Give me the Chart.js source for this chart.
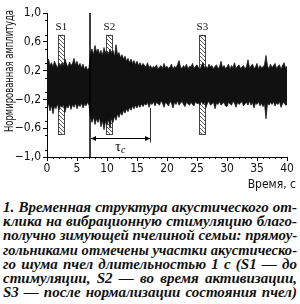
<!DOCTYPE html>
<html lang="ru">
<head>
<meta charset="UTF-8">
<title>Временная структура акустического отклика</title>
<style>
    body {
        margin: 0;
        padding: 0;
        background: #fff;
        width: 300px;
        overflow: hidden;
    }
    #wrap {
        position: relative;
        width: 300px;
        height: 198px;
    }
    .caption {
        position: absolute;
        top: 200px;
        left: 3px;
        width: 294px;
        font-family: 'Liberation Serif', 'Times New Roman', serif;
        font-weight: bold;
        font-style: italic;
        font-size: 15px;
        line-height: 14.2px;
        color: #111;
    }
    .caption div {
        text-align: justify;
        text-align-last: justify;
        white-space: nowrap;
        transform-origin: left top;
    }
</style>
</head>
<body>
<div id="wrap">
    <canvas id="chart" width="300" height="198"></canvas>
</div>
<div class="caption">
    <div>1. Временная структура акустического от-</div>
    <div>клика на вибрационную стимуляцию благо-</div>
    <div>получно зимующей пчелиной семьи: прямоу-</div>
    <div>гольниками отмечены участки акустическо-</div>
    <div>го шума пчел длительностью 1 с (S1 — до</div>
    <div>стимуляции, S2 — во время активизации,</div>
    <div>S3 — после нормализации состояния пчел)</div>
</div>

<script src="https://cdn.jsdelivr.net/npm/chart.js"></script>
<script>
    // sample step of the envelope, seconds
    const SAMPLE_STEP = 0.25;

    // upper envelope of the signal (max per 0.25 s), one row = 2 s
    const upperEnv = [
        0.33, 0.36, 0.27, 0.31, 0.25, 0.33, 0.28, 0.24,
        0.30, 0.26, 0.31, 0.27, 0.36, 0.29, 0.25, 0.32,
        0.27, 0.30, 0.37, 0.28, 0.33, 0.26, 0.30, 0.24,
        0.29, 0.22, 0.26, 0.21, 0.24, 0.45, 0.50, 0.42,
        0.55, 0.46, 0.50, 0.43, 0.48, 0.41, 0.52, 0.45,
        0.47, 0.42, 0.50, 0.44, 0.48, 0.40, 0.56, 0.42,
        0.45, 0.38, 0.42, 0.36, 0.40, 0.33, 0.37, 0.31,
        0.36, 0.30, 0.34, 0.28, 0.33, 0.27, 0.31, 0.26,
        0.30, 0.27, 0.25, 0.31, 0.24, 0.27, 0.23, 0.26,
        0.24, 0.28, 0.22, 0.25, 0.27, 0.23, 0.30, 0.24,
        0.26, 0.23, 0.25, 0.29, 0.22, 0.26, 0.24, 0.28,
        0.34, 0.25, 0.23, 0.27, 0.24, 0.29, 0.22, 0.26,
        0.25, 0.30, 0.23, 0.26, 0.28, 0.24, 0.22, 0.27,
        0.31, 0.24, 0.26, 0.23, 0.29, 0.25, 0.27, 0.22,
        0.26, 0.28, 0.23, 0.25, 0.33, 0.24, 0.27, 0.23,
        0.25, 0.29, 0.22, 0.27, 0.24, 0.31, 0.23, 0.26,
        0.28, 0.23, 0.25, 0.27, 0.22, 0.26, 0.35, 0.24,
        0.26, 0.29, 0.23, 0.25, 0.30, 0.22, 0.27, 0.24,
        0.25, 0.28, 0.41, 0.26, 0.23, 0.29, 0.24, 0.27,
        0.30, 0.23, 0.26, 0.28, 0.22, 0.27, 0.31, 0.24,
        0.26
    ];

    // lower envelope of the signal (min per 0.25 s)
    const lowerEnv = [
        -0.30, -0.26, -0.36, -0.28, -0.40, -0.29, -0.33, -0.26,
        -0.35, -0.28, -0.31, -0.27, -0.38, -0.29, -0.32, -0.26,
        -0.34, -0.27, -0.31, -0.25, -0.33, -0.27, -0.30, -0.25,
        -0.32, -0.26, -0.29, -0.24, -0.28, -0.45, -0.52, -0.44,
        -0.55, -0.47, -0.52, -0.45, -0.58, -0.49, -0.62, -0.50,
        -0.56, -0.47, -0.60, -0.46, -0.52, -0.43, -0.49, -0.40,
        -0.45, -0.38, -0.42, -0.35, -0.39, -0.33, -0.37, -0.31,
        -0.35, -0.29, -0.33, -0.28, -0.32, -0.27, -0.31, -0.26,
        -0.30, -0.26, -0.28, -0.24, -0.31, -0.25, -0.27, -0.23,
        -0.29, -0.24, -0.26, -0.28, -0.22, -0.25, -0.31, -0.24,
        -0.26, -0.29, -0.23, -0.25, -0.32, -0.24, -0.27, -0.22,
        -0.28, -0.25, -0.23, -0.27, -0.30, -0.24, -0.26, -0.28,
        -0.24, -0.27, -0.29, -0.23, -0.26, -0.25, -0.28, -0.22,
        -0.27, -0.24, -0.31, -0.25, -0.23, -0.28, -0.26, -0.24,
        -0.33, -0.25, -0.27, -0.23, -0.28, -0.26, -0.24, -0.29,
        -0.30, -0.24, -0.26, -0.28, -0.23, -0.25, -0.31, -0.24,
        -0.27, -0.25, -0.23, -0.29, -0.26, -0.24, -0.28, -0.22,
        -0.28, -0.24, -0.32, -0.25, -0.27, -0.23, -0.29, -0.25,
        -0.30, -0.26, -0.47, -0.25, -0.28, -0.24, -0.27, -0.23,
        -0.29, -0.25, -0.27, -0.23, -0.31, -0.26, -0.24, -0.28,
        -0.27
    ];

    // marked 1 s segments
    const segLabels = ['S1', 'S2', 'S3'];
    const segStart = [1.9, 9.9, 25.4];
    const segEnd = [2.9, 10.9, 26.4];
    const segTop = 0.70;
    const segBottom = -0.68;
    const segLabelY = 0.81;

    // stimulation moment and tau_c interval
    const stimTime = 7.2;
    const tauEnd = 17.1;
    const tauY = -0.74;
    const tauLineTop = -0.32;
    const tauLineBottom = -0.80;

    const xTicks = [0, 5, 10, 15, 20, 25, 30, 35, 40];
    const yTitle = 'Нормированная амплитуда';
    const xTitle = 'Время, с';

    const times = upperEnv.map((_, i) => i * SAMPLE_STEP);
    const narrow = "'Liberation Sans Narrow', 'DejaVu Sans Condensed', Arial, sans-serif";

    // squeeze caption lines that are wider than the column
    document.querySelectorAll('.caption div').forEach(line => {
        const w = line.scrollWidth;
        if (w > 294) {
            line.style.width = w + 'px';
            line.style.transform = 'scaleX(' + (294 / w) + ')';
        }
    });

    function makeHatch() {
        const c = document.createElement('canvas');
        c.width = 4;
        c.height = 4;
        const g = c.getContext('2d');
        g.fillStyle = '#fff';
        g.fillRect(0, 0, 4, 4);
        g.strokeStyle = '#555';
        g.lineWidth = 1;
        g.beginPath();
        g.moveTo(-1, -1); g.lineTo(5, 5);
        g.moveTo(-1, 3); g.lineTo(1, 5);
        g.moveTo(3, -1); g.lineTo(5, 1);
        g.stroke();
        return g.createPattern(c, 'repeat');
    }

    const marks = {
        id: 'marks',
        beforeDatasetsDraw(chart) {
            const { ctx, scales: { x, y } } = chart;
            const hatch = makeHatch();
            ctx.save();
            segStart.forEach((s, i) => {
                const x0 = x.getPixelForValue(s);
                const x1 = x.getPixelForValue(segEnd[i]);
                const y0 = y.getPixelForValue(segTop);
                const y1 = y.getPixelForValue(segBottom);
                ctx.fillStyle = hatch;
                ctx.fillRect(x0, y0, x1 - x0, y1 - y0);
                ctx.strokeStyle = '#444';
                ctx.lineWidth = 1;
                ctx.strokeRect(Math.round(x0) + 0.5, Math.round(y0) + 0.5, Math.round(x1 - x0), Math.round(y1 - y0));
            });
            ctx.restore();
        },
        afterDraw(chart) {
            const { ctx, scales: { x, y } } = chart;
            ctx.save();

            // segment labels
            ctx.fillStyle = '#111';
            ctx.font = "11px 'Liberation Serif', serif";
            ctx.textAlign = 'center';
            ctx.textBaseline = 'middle';
            segLabels.forEach((lab, i) => {
                ctx.fillText(lab, x.getPixelForValue((segStart[i] + segEnd[i]) / 2), y.getPixelForValue(segLabelY));
            });

            // stimulation line
            ctx.strokeStyle = '#000';
            ctx.lineWidth = 1.5;
            const sx = Math.round(x.getPixelForValue(stimTime));
            ctx.beginPath();
            ctx.moveTo(sx, y.getPixelForValue(1.0));
            ctx.lineTo(sx, y.getPixelForValue(-1.0));
            ctx.stroke();

            // tau_c end line and arrow
            const ex = Math.round(x.getPixelForValue(tauEnd)) + 0.5;
            ctx.lineWidth = 1;
            ctx.strokeStyle = '#333';
            ctx.beginPath();
            ctx.moveTo(ex, y.getPixelForValue(tauLineTop));
            ctx.lineTo(ex, y.getPixelForValue(tauLineBottom));
            ctx.stroke();

            const ay = Math.round(y.getPixelForValue(tauY)) + 0.5;
            const ax0 = sx + 1;
            const ax1 = ex - 0.5;
            ctx.strokeStyle = '#000';
            ctx.beginPath();
            ctx.moveTo(ax0, ay);
            ctx.lineTo(ax1, ay);
            ctx.stroke();
            ctx.fillStyle = '#000';
            ctx.beginPath();
            ctx.moveTo(ax0, ay); ctx.lineTo(ax0 + 5, ay - 2.5); ctx.lineTo(ax0 + 5, ay + 2.5);
            ctx.closePath(); ctx.fill();
            ctx.beginPath();
            ctx.moveTo(ax1, ay); ctx.lineTo(ax1 - 5, ay - 2.5); ctx.lineTo(ax1 - 5, ay + 2.5);
            ctx.closePath(); ctx.fill();

            // tau_c label
            const tx = x.getPixelForValue((stimTime + tauEnd) / 2);
            const ty = y.getPixelForValue(-0.87);
            ctx.font = "14px 'Liberation Serif', serif";
            ctx.textAlign = 'right';
            ctx.fillText('τ', tx + 1, ty);
            ctx.font = "italic 10px 'Liberation Serif', serif";
            ctx.textAlign = 'left';
            ctx.fillText('с', tx + 1, ty + 3);

            // minor ticks
            ctx.strokeStyle = '#000';
            ctx.lineWidth = 1;
            const bottom = chart.chartArea.bottom;
            const left = chart.chartArea.left;
            ctx.beginPath();
            for (let t = 1; t < 40; t++) {
                if (t % 5 === 0) continue;
                const px = Math.round(x.getPixelForValue(t)) + 0.5;
                ctx.moveTo(px, bottom);
                ctx.lineTo(px, bottom + 2);
            }
            for (let k = -9; k <= 9; k += 2) {
                const py = Math.round(y.getPixelForValue(k / 10)) + 0.5;
                ctx.moveTo(left, py);
                ctx.lineTo(left - 2, py);
            }
            ctx.stroke();

            // axis titles
            ctx.fillStyle = '#111';
            ctx.font = '12px ' + narrow;
            ctx.textAlign = 'right';
            ctx.textBaseline = 'middle';
            ctx.fillText(xTitle, 296, 185);

            ctx.translate(10, 71);
            ctx.rotate(-Math.PI / 2);
            const tw = ctx.measureText(yTitle).width;
            if (tw > 122) ctx.scale(122 / tw, 1);
            ctx.textAlign = 'center';
            ctx.fillText(yTitle, 0, 0);
            ctx.restore();
        }
    };

    function fmt(v) {
        if (Math.abs(v) < 1e-9) return '0';
        return v.toFixed(1).replace('.', ',').replace('-', '\u2212');
    }

    new Chart(document.getElementById('chart'), {
        type: 'line',
        data: {
            datasets: [
                {
                    data: upperEnv.map((v, i) => ({ x: times[i], y: v })),
                    borderColor: '#1a1a1a',
                    borderWidth: 0.8,
                    backgroundColor: '#111',
                    fill: '+1',
                    pointRadius: 0,
                    tension: 0
                },
                {
                    data: lowerEnv.map((v, i) => ({ x: times[i], y: v })),
                    borderColor: '#1a1a1a',
                    borderWidth: 0.8,
                    backgroundColor: '#111',
                    fill: false,
                    pointRadius: 0,
                    tension: 0
                }
            ]
        },
        options: {
            responsive: false,
            animation: false,
            devicePixelRatio: 1,
            layout: { padding: { top: 13, right: 13, left: 0, bottom: 0 } },
            plugins: {
                legend: { display: false },
                tooltip: { enabled: false }
            },
            scales: {
                x: {
                    type: 'linear',
                    min: 0,
                    max: 40,
                    afterFit(scale) { scale.height = 41; },
                    afterBuildTicks(scale) { scale.ticks = xTicks.map(v => ({ value: v })); },
                    grid: { drawOnChartArea: false, drawTicks: true, tickLength: 4, color: '#000' },
                    border: { color: '#000', width: 1 },
                    ticks: {
                        color: '#111',
                        font: { family: narrow, size: 12 },
                        padding: 1,
                        maxRotation: 0,
                        autoSkip: false
                    }
                },
                y: {
                    min: -1,
                    max: 1,
                    afterFit(scale) { scale.width = 47; },
                    grid: { drawOnChartArea: false, drawTicks: true, tickLength: 4, color: '#000' },
                    border: { color: '#000', width: 1 },
                    ticks: {
                        stepSize: 0.2,
                        color: '#111',
                        font: { family: narrow, size: 12 },
                        padding: 2,
                        callback: v => fmt(v)
                    }
                }
            }
        },
        plugins: [marks]
    });
</script>
</body>
</html>
